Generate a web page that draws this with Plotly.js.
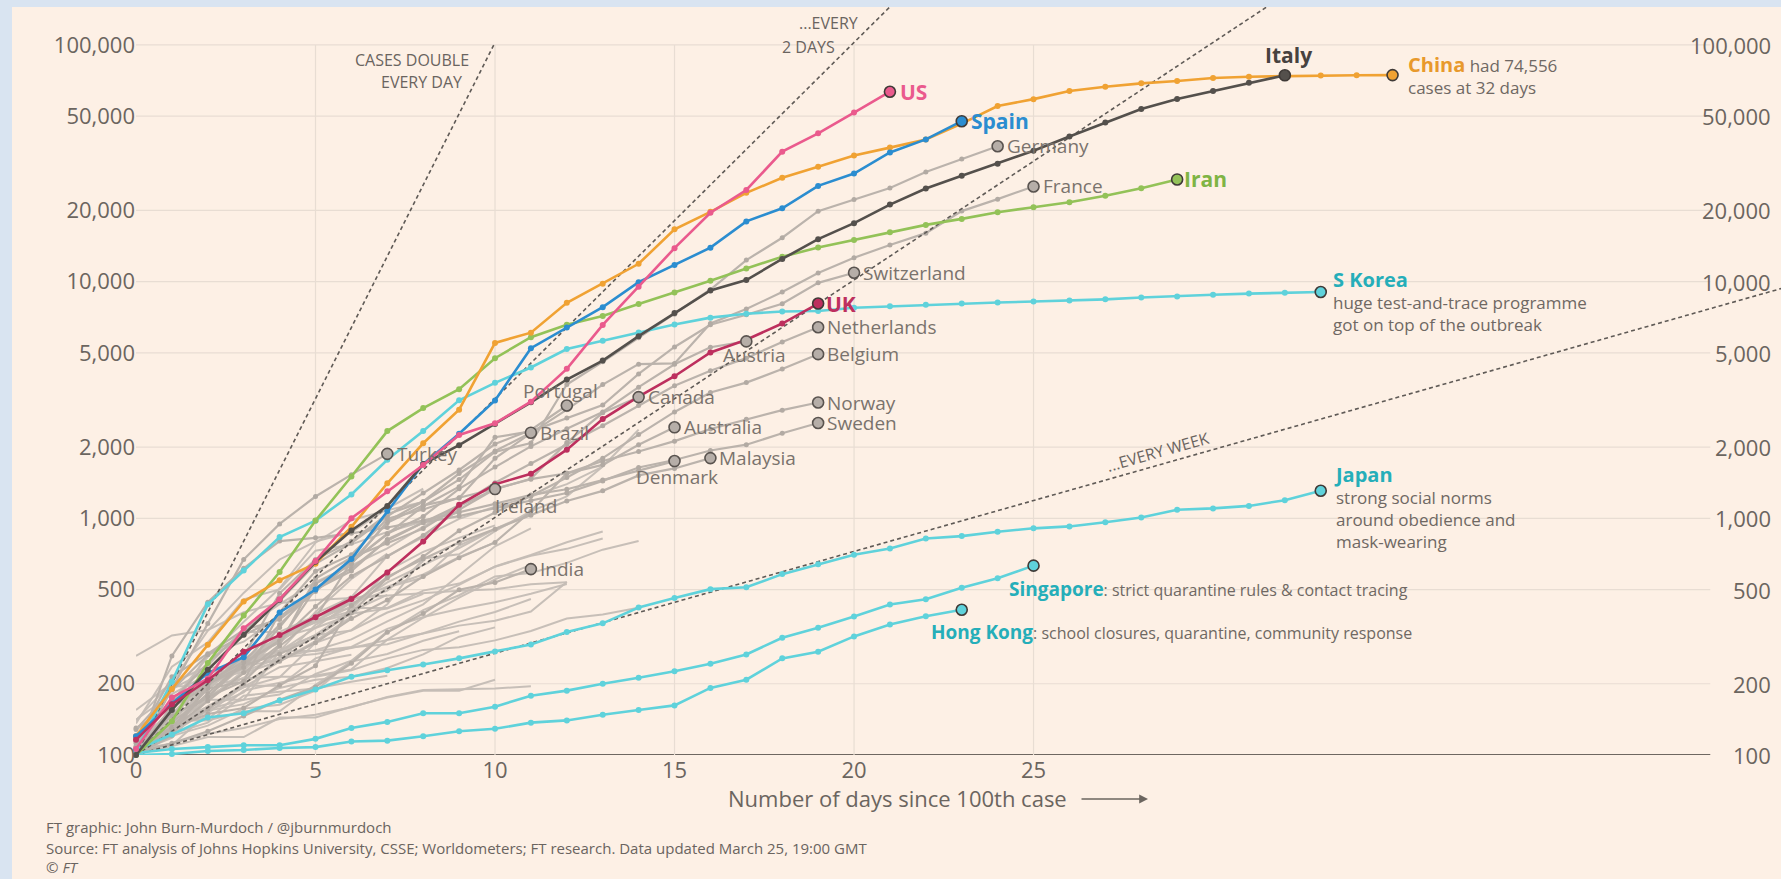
<!DOCTYPE html>
<html><head><meta charset="utf-8">
<script src="https://cdn.plot.ly/plotly-3.0.1.min.js"></script>
<style>html,body{margin:0;padding:0;background:#d9e4f1;overflow:hidden}#chart{width:1781px;height:879px}</style>
</head><body><div id="chart"></div>
<script>
// ---------- axis ticks ----------
const xTickVals = [0, 5, 10, 15, 20, 25];
const yTickVals = [100, 200, 500, 1000, 2000, 5000, 10000, 20000, 50000, 100000];
const yTickText = ['100', '200', '500', '1,000', '2,000', '5,000', '10,000', '20,000', '50,000', '100,000'];
// doubling-time guide lines (days to double) and the day each guide stops
const doublingDays = [1, 2, 3, 7];
const doublingEnds = [10, 22, 33, 46];

// ---------- highlighted countries (cases by day since 100th case) ----------
const chinaCases = [120, 190, 292, 445, 548, 643, 920, 1406, 2075, 2877, 5509, 6087, 8141, 9802, 11891, 16630, 19716, 23707, 27440, 30587, 34110, 36814, 39829, 46500, 55200, 59000, 63900, 66500, 68800, 70400, 72500, 73400, 73900, 74200, 74400, 74556];
const italyCases = [100, 155, 229, 322, 453, 655, 888, 1128, 1694, 2036, 2502, 3089, 3858, 4636, 5883, 7375, 9172, 10149, 12462, 15113, 17660, 21157, 24747, 27980, 31506, 35713, 41035, 47021, 53578, 59138, 63927, 69176, 74386];
const usCases = [106, 175, 210, 343, 455, 660, 1000, 1300, 1680, 2250, 2520, 3110, 4280, 6560, 9500, 13840, 19540, 24380, 35400, 42300, 51800, 63400];
const spainCases = [120, 165, 222, 259, 400, 500, 673, 1073, 1695, 2277, 3146, 5232, 6391, 7798, 9942, 11748, 13910, 17963, 20410, 25374, 28603, 35136, 39885, 47610];
const iranCases = [100, 139, 245, 388, 593, 978, 1501, 2336, 2922, 3513, 4747, 5823, 6566, 7161, 8042, 9000, 10075, 11364, 12729, 13938, 14991, 16169, 17361, 18407, 19644, 20610, 21638, 23049, 24811, 27017];
const sKoreaCases = [104, 204, 433, 602, 833, 977, 1261, 1766, 2337, 3150, 3736, 4335, 5186, 5621, 6088, 6593, 7041, 7314, 7478, 7513, 7755, 7869, 7979, 8086, 8162, 8236, 8320, 8413, 8565, 8652, 8799, 8897, 8961, 9037];
const ukCases = [116, 164, 207, 273, 321, 382, 456, 590, 798, 1140, 1391, 1543, 1950, 2626, 3269, 3983, 5018, 5683, 6650, 8077];
const japanCases = [105, 122, 144, 150, 170, 189, 214, 228, 241, 256, 274, 293, 331, 360, 420, 461, 502, 511, 581, 639, 701, 746, 822, 841, 878, 907, 924, 963, 1007, 1086, 1101, 1128, 1193, 1307];
const singaporeCases = [102, 106, 108, 110, 110, 117, 130, 138, 150, 150, 160, 178, 187, 200, 212, 226, 243, 266, 313, 345, 385, 432, 455, 509, 558, 631];
const hongKongCases = [100, 101, 104, 105, 107, 108, 114, 115, 120, 126, 129, 137, 140, 148, 155, 162, 192, 208, 256, 273, 317, 356, 386, 411];

// ---------- labelled grey countries ----------
const germanyCases = [130, 159, 196, 262, 482, 670, 799, 1040, 1176, 1457, 1908, 2078, 3675, 4585, 5795, 7272, 9257, 12327, 15320, 19848, 22213, 24873, 29056, 32986, 37323];
const franceCases = [100, 130, 191, 204, 288, 380, 656, 957, 1134, 1217, 1792, 2289, 2876, 3672, 4480, 4513, 6650, 7652, 9043, 10871, 12612, 14282, 16018, 19856, 22304, 25233];
const switzerlandCases = [114, 214, 268, 337, 374, 491, 652, 858, 1125, 1359, 2200, 2330, 2650, 3010, 4075, 5294, 6575, 7245, 8060, 9877, 10897];
const netherlandsCases = [128, 188, 265, 321, 382, 503, 614, 804, 959, 1135, 1413, 1705, 2051, 2460, 2994, 3631, 4204, 4749, 5560, 6412];
const belgiumCases = [109, 169, 200, 239, 267, 314, 399, 559, 689, 886, 1058, 1243, 1486, 1795, 2257, 2815, 3401, 3743, 4269, 4937];
const austriaCases = [104, 131, 182, 246, 302, 504, 655, 860, 1018, 1332, 1646, 2013, 2388, 2814, 3582, 4474, 5283, 5588];
const canadaCases = [103, 138, 176, 244, 304, 424, 569, 690, 846, 1087, 1328, 1470, 2088, 2790, 3251];
const portugalCases = [112, 169, 245, 331, 448, 642, 785, 1020, 1280, 1600, 2060, 2362, 2995];
const brazilCases = [100, 121, 200, 234, 346, 529, 640, 970, 1178, 1546, 1924, 2300];
const australiaCases = [107, 128, 156, 200, 249, 298, 377, 452, 568, 681, 791, 1071, 1549, 1682, 2044, 2423];
const malaysiaCases = [117, 129, 149, 158, 197, 238, 428, 566, 673, 790, 900, 1030, 1183, 1306, 1518, 1624, 1796];
const denmarkCases = [100, 262, 442, 615, 801, 827, 864, 914, 977, 1057, 1151, 1255, 1326, 1450, 1591, 1745];
const norwayCases = [108, 147, 176, 205, 400, 598, 702, 996, 1090, 1221, 1333, 1463, 1550, 1746, 1914, 2118, 2385, 2621, 2863, 3084];
const swedenCases = [101, 161, 203, 248, 355, 500, 599, 814, 961, 1022, 1103, 1190, 1279, 1439, 1639, 1763, 1934, 2046, 2286, 2526];
const turkeyCases = [100, 191, 359, 670, 947, 1236, 1529, 1872];
const irelandCases = [100, 129, 169, 223, 292, 557, 683, 785, 906, 1125, 1329];
const indiaCases = [102, 112, 126, 146, 171, 194, 244, 330, 396, 499, 536, 610];

// ---------- unlabelled grey countries ----------
const other01 = [100, 126, 161, 193, 213, 298, 337, 433, 677, 705, 883, 1071, 1238, 1656, 2369];
const other02 = [100, 190, 228, 331, 331, 387, 418, 418, 495, 530, 624, 695, 743, 821];
const other03 = [109, 156, 225, 244, 277, 321, 336, 400, 450, 523, 626, 700, 792, 880];
const other04 = [116, 141, 189, 253, 298, 396, 464, 694, 833, 995, 1120, 1236, 1394, 1654];
const other05 = [103, 119, 177, 238, 251, 355, 425, 536, 634, 749, 901, 1051];
const other06 = [155, 201, 238, 342, 434, 537, 632, 746, 922, 1142];
const other07 = [140, 203, 335, 484, 670, 798, 875, 1099, 1333];
const other08 = [114, 147, 177, 212, 272, 322, 411, 599, 721, 827, 934];
const other09 = [111, 168, 260, 365, 506, 789, 981, 1082, 1173];
const other10 = [136, 236, 299, 454, 501, 730, 776, 875, 972, 1063];
const other11 = [103, 118, 171, 171, 274, 344, 392, 511, 562, 767, 900];
const other12 = [117, 134, 172, 227, 311, 369, 450, 514, 579, 686, 790];
const other13 = [111, 140, 142, 187, 202, 217, 230, 307, 380, 462, 552, 636];
const other14 = [103, 134, 156, 171, 180, 220, 250, 330, 409, 473, 568, 588, 648, 737, 802];
const other15 = [141, 181, 219, 253, 275, 275, 286, 341, 383, 414, 442, 480, 528];
const other16 = [123, 131, 158, 184, 260, 277, 308, 367, 433, 576, 762, 906];
const other17 = [115, 171, 205, 225, 258, 267, 283, 306, 326, 352, 369, 404, 538];
const other18 = [109, 110, 150, 196, 196, 256, 285, 294, 327, 366, 402, 456];
const other19 = [114, 147, 199, 253, 306, 367, 438, 495, 658];
const other20 = [116, 150, 202, 240, 274, 402, 554, 709];
const other21 = [110, 195, 195, 211, 214, 214, 228, 256, 278, 285, 305, 334, 377, 392, 419];
const other22 = [104, 112, 123, 130, 142, 148, 159, 176, 188, 189, 191, 195];
const other23 = [110, 124, 154, 164, 192, 208, 214, 233, 266, 316, 346];
const other24 = [109, 120, 133, 157, 163, 187, 248, 267, 304, 333];
const other25 = [262, 320, 337, 401, 439, 452, 460, 470, 481, 494, 501, 526, 537];
const other26 = [117, 145, 234, 234, 318, 363, 395, 416, 480];
const other27 = [118, 164, 203, 251, 316, 367, 405, 475];
const other28 = [105, 128, 206, 254, 315, 382, 442];
const other29 = [102, 128, 196, 231, 306, 378, 470];
const other30 = [103, 135, 171, 222, 249, 303, 384];
const other31 = [101, 109, 119, 119, 144, 144, 160, 175, 187, 187, 208];
const other32 = [105, 123, 137, 178, 185, 191, 204, 216];
const other33 = [109, 137, 200, 245, 313, 345, 443];
const other34 = [128, 158, 266, 301, 387];
const other35 = [115, 136, 160, 194, 235, 249, 265];
const other36 = [113, 140, 140, 153, 153, 198, 248, 333];
const otherCountries = [other01, other02, other03, other04, other05, other06, other07, other08, other09, other10, other11, other12, other13, other14, other15, other16, other17, other18, other19, other20, other21, other22, other23, other24, other25, other26, other27, other28, other29, other30, other31, other32, other33, other34, other35, other36];

// ---------- geometry / style ----------
const W = 1781, H = 879, L = 136, T = 7, PW = 1645, PH = 748;
const XMAX = 45.82, YMIN = 2, YMAX = 5.1601, GRID_END = 43.85;
const FONT = "'Open Sans', Roboto, sans-serif";
const TXT = '#6b655f', LAB = '#7a736d', CYAN = '#5fd2db', TEAL = '#25aeb9';
const px = x => (x - L) / PW;
const py = y => (T + PH - y) / PH;
const idx = a => a.map((_, i) => i);
const last = a => a.length - 1;

const traces = [];
// grid
yTickVals.forEach(v => {
  traces.push({x: [0, GRID_END], y: [v, v], mode: 'lines', hoverinfo: 'skip',
    line: {color: v === 100 ? '#6e6761' : '#e8ddd3', width: v === 100 ? 2.2 : 1.2}});
});
xTickVals.filter(d => d > 0).forEach(d => {
  traces.push({x: [d, d], y: [100, 100000], mode: 'lines', hoverinfo: 'skip', line: {color: '#e8ddd3', width: 1.2}});
});
// unlabelled grey
otherCountries.forEach(a => {
  traces.push({x: idx(a), y: a, mode: 'lines', hoverinfo: 'skip', line: {color: '#c5bdb6', width: 2}, opacity: 0.95});
});
// labelled grey
const greyLabelled = [germanyCases, franceCases, switzerlandCases, netherlandsCases, belgiumCases, austriaCases, canadaCases, portugalCases, brazilCases, australiaCases, malaysiaCases, denmarkCases, norwayCases, swedenCases, turkeyCases, irelandCases, indiaCases];
greyLabelled.forEach(a => {
  traces.push({x: idx(a), y: a, mode: 'lines+markers', hoverinfo: 'skip', cliponaxis: false,
    line: {color: '#bbb3ac', width: 2.2}, marker: {size: 5, color: '#b2aaa3'}});
});
// doubling guides
doublingDays.forEach((k, i) => {
  const e = doublingEnds[i];
  traces.push({x: [0, e], y: [100, 100 * Math.pow(2, e / k)], mode: 'lines', hoverinfo: 'skip',
    line: {color: '#5f5a56', width: 1.6, dash: '4px,3px'}});
});
// highlighted
const highlighted = [
  [hongKongCases, CYAN], [singaporeCases, CYAN], [japanCases, CYAN], [sKoreaCases, CYAN],
  [iranCases, '#93c258'], [chinaCases, '#f0a233'], [spainCases, '#2b8dd0'],
  [italyCases, '#54504c'], [usCases, '#ea5a8d'], [ukCases, '#bd2f5e']
];
highlighted.forEach(([a, c]) => {
  traces.push({x: idx(a), y: a, mode: 'lines+markers', hoverinfo: 'skip', cliponaxis: false,
    line: {color: c, width: 2.6}, marker: {size: 6, color: c}});
});
// end markers
greyLabelled.forEach(a => {
  traces.push({x: [last(a)], y: [a[last(a)]], mode: 'markers', hoverinfo: 'skip', cliponaxis: false,
    marker: {size: 11, color: '#b6aea8', line: {color: '#59534f', width: 1.6}}});
});
highlighted.forEach(([a, c]) => {
  traces.push({x: [last(a)], y: [a[last(a)]], mode: 'markers', hoverinfo: 'skip', cliponaxis: false,
    marker: {size: 11, color: c, line: {color: '#3f3a37', width: 1.6}}});
});

// ---------- annotations ----------
const ann = [];
function lab(a, text, o) {
  const n = last(a);
  ann.push(Object.assign({x: n, y: Math.log10(a[n]), xref: 'x', yref: 'y', text: text, showarrow: false,
    xanchor: 'left', yanchor: 'middle', xshift: 7, yshift: 0, align: 'left',
    font: {family: FONT, size: 19, color: LAB}}, o || {}));
}
const bold = (c, s) => ({family: FONT, size: s || 21, color: c});
lab(usCases, '<b>US</b>', {font: bold('#ea5a8d'), xshift: 8});
lab(spainCases, '<b>Spain</b>', {font: bold('#2b8dd0'), xshift: 7});
lab(italyCases, '<b>Italy</b>', {font: bold('#47423f'), xanchor: 'center', yanchor: 'bottom', yshift: 4, xshift: 4});
lab(iranCases, '<b>Iran</b>', {font: bold('#7fb444'), xshift: 5});
lab(ukCases, '<b>UK</b>', {font: bold('#bd2f5e'), xshift: 6});
lab(chinaCases, '<span style="color:#e8992c;font-size:20px"><b>China</b></span> had 74,556<br>cases at 32 days',
  {font: {family: FONT, size: 17, color: '#6f6863'}, xshift: 13});
lab(sKoreaCases, '<span style="color:' + TEAL + ';font-size:20px"><b>S Korea</b></span><br>huge test-and-trace programme<br>got on top of the outbreak',
  {font: {family: FONT, size: 17, color: '#6f6863'}, xshift: 10, yshift: -9});
lab(japanCases, '<span style="color:' + TEAL + ';font-size:20px"><b>Japan</b></span><br>strong social norms<br>around obedience and<br>mask-wearing',
  {font: {family: FONT, size: 17, color: '#6f6863'}, xshift: 11, yshift: -16});
lab(singaporeCases, '<span style="color:' + TEAL + ';font-size:19px"><b>Singapore</b></span>: strict quarantine rules &amp; contact tracing',
  {font: {family: FONT, size: 16, color: '#6f6863'}, xshift: -27, yshift: -23});
lab(hongKongCases, '<span style="color:' + TEAL + ';font-size:19px"><b>Hong Kong</b></span>: school closures, quarantine, community response',
  {font: {family: FONT, size: 16, color: '#6f6863'}, xshift: -33, yshift: -22});
lab(germanyCases, 'Germany');
lab(franceCases, 'France');
lab(switzerlandCases, 'Switzerland');
lab(netherlandsCases, 'Netherlands');
lab(belgiumCases, 'Belgium');
lab(norwayCases, 'Norway');
lab(swedenCases, 'Sweden');
lab(canadaCases, 'Canada');
lab(brazilCases, 'Brazil');
lab(australiaCases, 'Australia');
lab(malaysiaCases, 'Malaysia');
lab(turkeyCases, 'Turkey', {xshift: 8});
lab(indiaCases, 'India');
lab(austriaCases, 'Austria', {xanchor: 'center', xshift: 8, yshift: -14});
lab(portugalCases, 'Portugal', {xanchor: 'center', xshift: -6, yshift: 15});
lab(denmarkCases, 'Denmark', {xanchor: 'center', xshift: 2, yshift: -16});
lab(irelandCases, 'Ireland', {xshift: -2, yshift: -17});

// right-hand axis labels
yTickVals.forEach((v, i) => {
  ann.push({xref: 'paper', yref: 'y', x: px(1773), y: Math.log10(v), text: yTickText[i], showarrow: false,
    xanchor: 'right', yanchor: 'middle', font: {family: FONT, size: 22, color: TXT}});
});
// guide labels
const guideFont = {family: FONT, size: 16, color: '#6a645f'};
[['CASES DOUBLE', 471, 60], ['EVERY DAY', 464, 82], ['...EVERY', 860, 23], ['2 DAYS', 837, 47]].forEach(([t, x, y]) => {
  ann.push({xref: 'paper', yref: 'paper', x: px(x), y: py(y), text: t, showarrow: false, xanchor: 'right', yanchor: 'middle', font: guideFont});
});
ann.push({xref: 'paper', yref: 'paper', x: px(1157), y: py(452), text: '...EVERY WEEK', showarrow: false,
  textangle: -15.8, xanchor: 'center', yanchor: 'middle', font: guideFont});
// axis title + arrow
ann.push({xref: 'paper', yref: 'paper', x: px(897), y: py(798), text: 'Number of days since 100th case', showarrow: false,
  xanchor: 'center', yanchor: 'middle', font: {family: FONT, size: 22, color: TXT}});
ann.push({xref: 'paper', yref: 'paper', x: px(1148), y: py(799), ax: -68, ay: 0, text: '', showarrow: true,
  arrowhead: 2, arrowsize: 1.1, arrowwidth: 1.6, arrowcolor: TXT});
// footer
[['FT graphic: John Burn-Murdoch / @jburnmurdoch', 827], ['Source: FT analysis of Johns Hopkins University, CSSE; Worldometers; FT research. Data updated March 25, 19:00 GMT', 848], ['© <i>FT</i>', 867]].forEach(([t, y]) => {
  ann.push({xref: 'paper', yref: 'paper', x: px(44), y: py(y), text: t, showarrow: false, xanchor: 'left', yanchor: 'middle',
    font: {family: FONT, size: 15, color: '#6a645f'}});
});

const layout = {
  width: W, height: H, margin: {l: L, r: W - L - PW, t: T, b: H - T - PH, pad: 0},
  paper_bgcolor: '#d9e4f1', plot_bgcolor: 'rgba(0,0,0,0)', showlegend: false, hovermode: false,
  font: {family: FONT, color: TXT},
  xaxis: {range: [0, XMAX], tickmode: 'array', tickvals: xTickVals, ticks: '', showgrid: false, zeroline: false,
    showline: false, tickfont: {family: FONT, size: 22, color: TXT}, fixedrange: true},
  yaxis: {type: 'log', range: [YMIN, YMAX], tickmode: 'array', tickvals: yTickVals, ticktext: yTickText, ticks: '',
    showgrid: false, zeroline: false, showline: false, tickfont: {family: FONT, size: 22, color: TXT}, fixedrange: true},
  shapes: [{type: 'rect', xref: 'paper', yref: 'paper', x0: px(12), x1: px(W + 5), y0: py(H + 5), y1: py(7),
    fillcolor: '#fdf0e5', line: {width: 0}, layer: 'below'}],
  annotations: ann
};
Plotly.newPlot('chart', traces, layout, {staticPlot: true, displayModeBar: false});
</script></body></html>
